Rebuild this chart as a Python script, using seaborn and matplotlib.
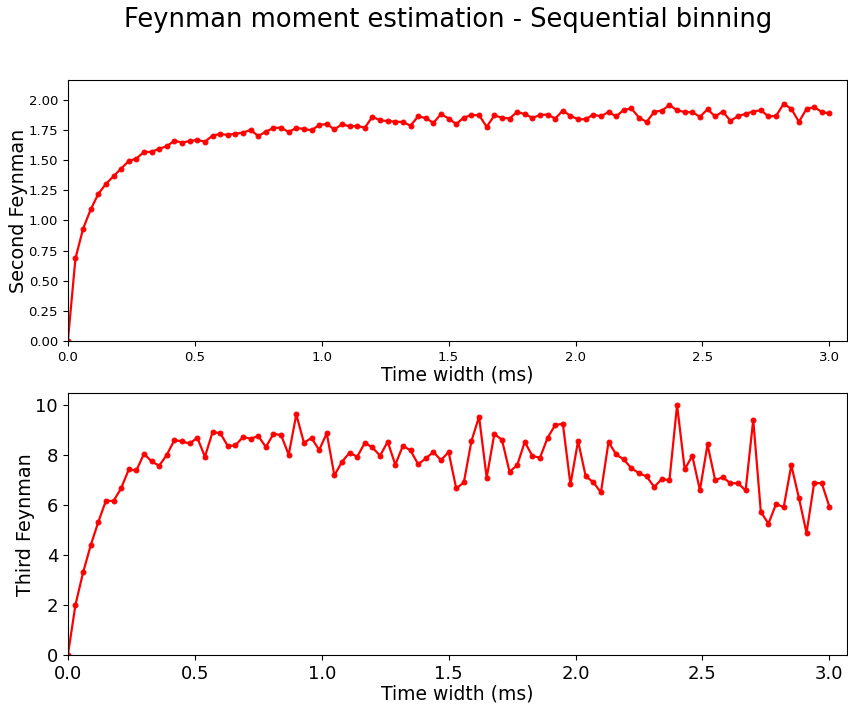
import numpy as np
import pandas as pd
import matplotlib
matplotlib.use('Agg')
import matplotlib.pyplot as plt
import seaborn as sns

# time widths (ms), 0 to 3.0 in 0.03 steps
time_width = np.round(np.arange(101) * 0.03, 2)

second_feynman = [
    0.0, 0.684, 0.930, 1.090, 1.219, 1.302, 1.366, 1.429, 1.492, 1.512,
    1.567, 1.567, 1.594, 1.614, 1.661, 1.644, 1.658, 1.666, 1.652, 1.702,
    1.716, 1.708, 1.719, 1.727, 1.749, 1.699, 1.735, 1.766, 1.768, 1.732,
    1.766, 1.757, 1.746, 1.790, 1.799, 1.754, 1.796, 1.779, 1.782, 1.768,
    1.859, 1.829, 1.823, 1.818, 1.815, 1.785, 1.862, 1.848, 1.807, 1.881,
    1.844, 1.798, 1.852, 1.872, 1.872, 1.775, 1.869, 1.852, 1.844, 1.899,
    1.880, 1.850, 1.872, 1.877, 1.844, 1.910, 1.866, 1.838, 1.838, 1.877,
    1.861, 1.899, 1.861, 1.916, 1.927, 1.852, 1.816, 1.899, 1.910, 1.955,
    1.913, 1.897, 1.897, 1.858, 1.921, 1.861, 1.902, 1.825, 1.863, 1.883,
    1.902, 1.913, 1.861, 1.866, 1.966, 1.924, 1.816, 1.924, 1.938, 1.899,
    1.886,
]

third_feynman = [
    0.0, 2.01, 3.31, 4.39, 5.33, 6.18, 6.17, 6.68, 7.43, 7.39,
    8.06, 7.75, 7.58, 8.02, 8.61, 8.55, 8.47, 8.70, 7.94, 8.92,
    8.89, 8.37, 8.39, 8.73, 8.66, 8.77, 8.33, 8.85, 8.81, 8.02,
    9.63, 8.50, 8.69, 8.21, 8.88, 7.19, 7.74, 8.10, 7.94, 8.50,
    8.31, 7.98, 8.54, 7.62, 8.38, 8.19, 7.64, 7.87, 8.13, 7.80,
    8.13, 6.67, 6.91, 8.57, 9.54, 7.10, 8.85, 8.62, 7.34, 7.60,
    8.53, 7.97, 7.90, 8.70, 9.21, 9.26, 6.83, 8.57, 7.16, 6.92,
    6.51, 8.53, 8.03, 7.83, 7.48, 7.28, 7.15, 6.73, 7.05, 7.00,
    10.01, 7.44, 7.97, 6.60, 8.43, 7.00, 7.12, 6.88, 6.88, 6.59,
    9.42, 5.73, 5.26, 6.05, 5.92, 7.60, 6.29, 4.89, 6.89, 6.88,
    5.94,
]

df = pd.DataFrame({'time': time_width,
                   'second': second_feynman,
                   'third': third_feynman})

fig = plt.figure(figsize=(8.48, 7.06), dpi=100)
ax1 = fig.add_axes([0.080, 0.517, 0.919, 0.370])
ax2 = fig.add_axes([0.080, 0.072, 0.919, 0.371])

fig.suptitle('Feynman moment estimation - Sequential binning',
             fontsize=18.5, x=0.529, y=0.99)

# top panel
sns.lineplot(x='time', y='second', data=df, ax=ax1, color='red',
             marker='o', markersize=3.5, markeredgecolor='red', linewidth=1.6)
ax1.set_xlim(0, 3.07)
ax1.set_ylim(0, 2.165)
ax1.set_xlabel('Time width (ms)', fontsize=13.5, labelpad=1.5)
ax1.set_ylabel('Second Feynman', fontsize=13.8, labelpad=0)
ax1.tick_params(labelsize=9.5)

# bottom panel
sns.lineplot(x='time', y='third', data=df, ax=ax2, color='red',
             marker='o', markersize=3.5, markeredgecolor='red', linewidth=1.6)
ax2.set_xlim(0, 3.07)
ax2.set_ylim(0, 10.48)
ax2.set_xlabel('Time width (ms)', fontsize=13.5, labelpad=1.5)
ax2.set_ylabel('Third Feynman', fontsize=13.8, labelpad=0)
ax2.tick_params(labelsize=13)

plt.savefig('out.png', dpi=100)
